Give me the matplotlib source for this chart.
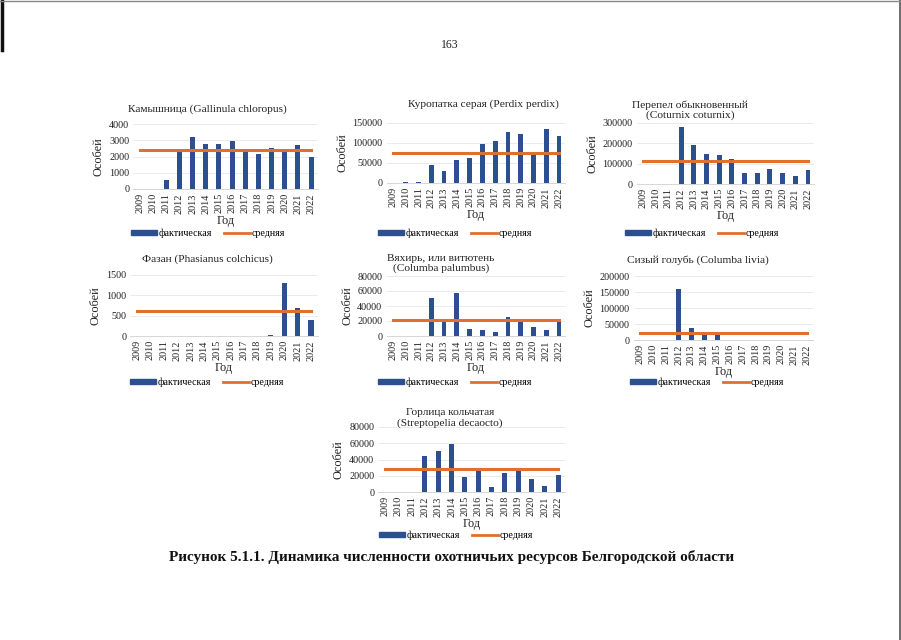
import matplotlib
matplotlib.use("Agg")
import matplotlib.pyplot as plt
from matplotlib.patches import Patch
from matplotlib.lines import Line2D

plt.rcParams['font.family'] = ['Liberation Serif', 'DejaVu Serif']

years = [str(y) for y in range(2009, 2023)]

kamyshnitsa = [0, 0, 550, 2250, 3200, 2750, 2800, 2950, 2300, 2150, 2500, 2350, 2700, 2000]
kamyshnitsa_mean = 2400
kuropatka = [0, 3000, 3000, 45000, 30000, 58000, 62000, 98000, 105000, 128000, 122000, 70000, 134000, 118000]
kuropatka_mean = 75000
perepel = [0, 0, 0, 282000, 192000, 147000, 143000, 122000, 55000, 55000, 72000, 52000, 37000, 68000]
perepel_mean = 112000
fazan = [0, 0, 0, 0, 0, 0, 0, 0, 0, 0, 15, 1300, 700, 400]
fazan_mean = 610
vyakhir = [0, 0, 0, 51000, 21000, 57000, 10000, 7500, 6000, 25000, 19000, 12500, 8500, 20000]
vyakhir_mean = 22000
golub = [0, 0, 0, 158000, 38000, 18000, 18000, 500, 500, 300, 0, 0, 0, 0]
golub_mean = 22000
gorlitsa = [0, 0, 0, 44000, 51000, 59000, 18000, 27000, 6500, 24000, 27000, 15500, 8000, 21000]
gorlitsa_mean = 28000

W, H = 901, 640
BLUE = '#2b4f8f'
ORANGE = '#e0702e'
TXT = '#222222'

fig = plt.figure(figsize=(W / 100, H / 100), dpi=100)
fig.patch.set_facecolor('white')


def chart(vals, mean, titles, title_xy, box, yticks, leg_xy):
    x0, x1, yt, yb = box
    ax = fig.add_axes([x0 / W, 1 - yb / H, (x1 - x0) / W, (yb - yt) / H])
    xs = list(range(len(years)))
    ax.bar(xs, vals, width=0.38, color=BLUE, zorder=3)
    ax.plot(xs, [mean] * len(xs), color=ORANGE, lw=2.2, zorder=4)
    ax.set_xlim(-0.5, len(years) - 0.5)
    ax.set_ylim(0, yticks[-1])
    ax.set_yticks(yticks)
    ax.set_yticklabels([str(t) for t in yticks], fontsize=7.3, color=TXT)
    ax.set_xticks(xs)
    ax.set_xticklabels(years, rotation=90, fontsize=7.3, color=TXT)
    ax.tick_params(length=0, pad=3)
    ax.grid(axis='y', color='#e8e8e8', lw=0.6, zorder=0)
    for s in ['top', 'right', 'left']:
        ax.spines[s].set_visible(False)
    ax.spines['bottom'].set_color('#d0d0d0')
    ax.spines['bottom'].set_linewidth(0.6)
    ax.set_ylabel('Особей', fontsize=8.8, color=TXT, labelpad=3)
    ax.set_xlabel('Год', fontsize=8.8, color=TXT, labelpad=1)
    tx, ty = title_xy
    fig.text(tx / W, 1 - ty / H, titles, ha='center', va='center', fontsize=8.2,
             color=TXT, linespacing=1.1)
    handles = [Patch(facecolor=BLUE, edgecolor=BLUE), Line2D([], [], color=ORANGE, lw=2.0)]
    lx, ly = leg_xy
    fig.legend(handles, ['фактическая', 'средняя'], loc='center',
               bbox_to_anchor=(lx / W, 1 - ly / H), ncol=2, frameon=False,
               fontsize=7.2, handlelength=2.6, handleheight=0.45, handletextpad=0.2,
               columnspacing=1.2, borderpad=0)
    return ax


chart(kamyshnitsa, kamyshnitsa_mean, 'Камышница (Gallinula chloropus)', (207, 109),
      (133.4, 317.6, 124, 189), [0, 1000, 2000, 3000, 4000], (208, 233))
chart(kuropatka, kuropatka_mean, 'Куропатка серая (Perdix perdix)', (483, 104),
      (386.6, 565.4, 123, 183), [0, 50000, 100000, 150000], (455, 233))
chart(perepel, perepel_mean, 'Перепел обыкновенный\n(Coturnix coturnix)', (690, 110),
      (636.7, 814.3, 123, 184), [0, 100000, 200000, 300000], (702, 233))
chart(fazan, fazan_mean, 'Фазан (Phasianus colchicus)', (207, 259),
      (130.3, 317.7, 275, 336), [0, 500, 1000, 1500], (207, 382))
chart(vyakhir, vyakhir_mean, 'Вяхирь, или витютень\n(Columba palumbus)', (441, 263.5),
      (386.6, 565.4, 276, 336), [0, 20000, 40000, 60000, 80000], (455, 382))
chart(golub, golub_mean, 'Сизый голубь (Columba livia)', (698, 260),
      (633.6, 813.4, 276, 340), [0, 50000, 100000, 150000, 200000], (707, 382))
chart(gorlitsa, gorlitsa_mean, 'Горлица кольчатая\n(Streptopelia decaocto)', (450, 418),
      (378.3, 564.7, 427, 492), [0, 20000, 40000, 60000, 80000], (456, 535))

fig.text(450 / W, 1 - 45 / H, '163', ha='center', va='center', fontsize=8.5, color=TXT)
fig.text(452 / W, 1 - 557 / H,
         'Рисунок 5.1.1. Динамика численности охотничьих ресурсов Белгородской области',
         ha='center', va='center', fontsize=11, fontweight='bold', color='#111111')

# scan edges of the page
fig.add_artist(Line2D([899.5 / W, 899.5 / W], [0, 1], color='#555555', lw=1.2,
                      transform=fig.transFigure))
fig.add_artist(Line2D([1.5 / W, 1.5 / W], [1 - 50 / H, 1], color='#111111', lw=2.5,
                      transform=fig.transFigure))
fig.add_artist(Line2D([0, 1], [1 - 0.5 / H, 1 - 0.5 / H], color='#888888', lw=1.0,
                      transform=fig.transFigure))

fig.savefig('out.png', dpi=100, facecolor='white')
